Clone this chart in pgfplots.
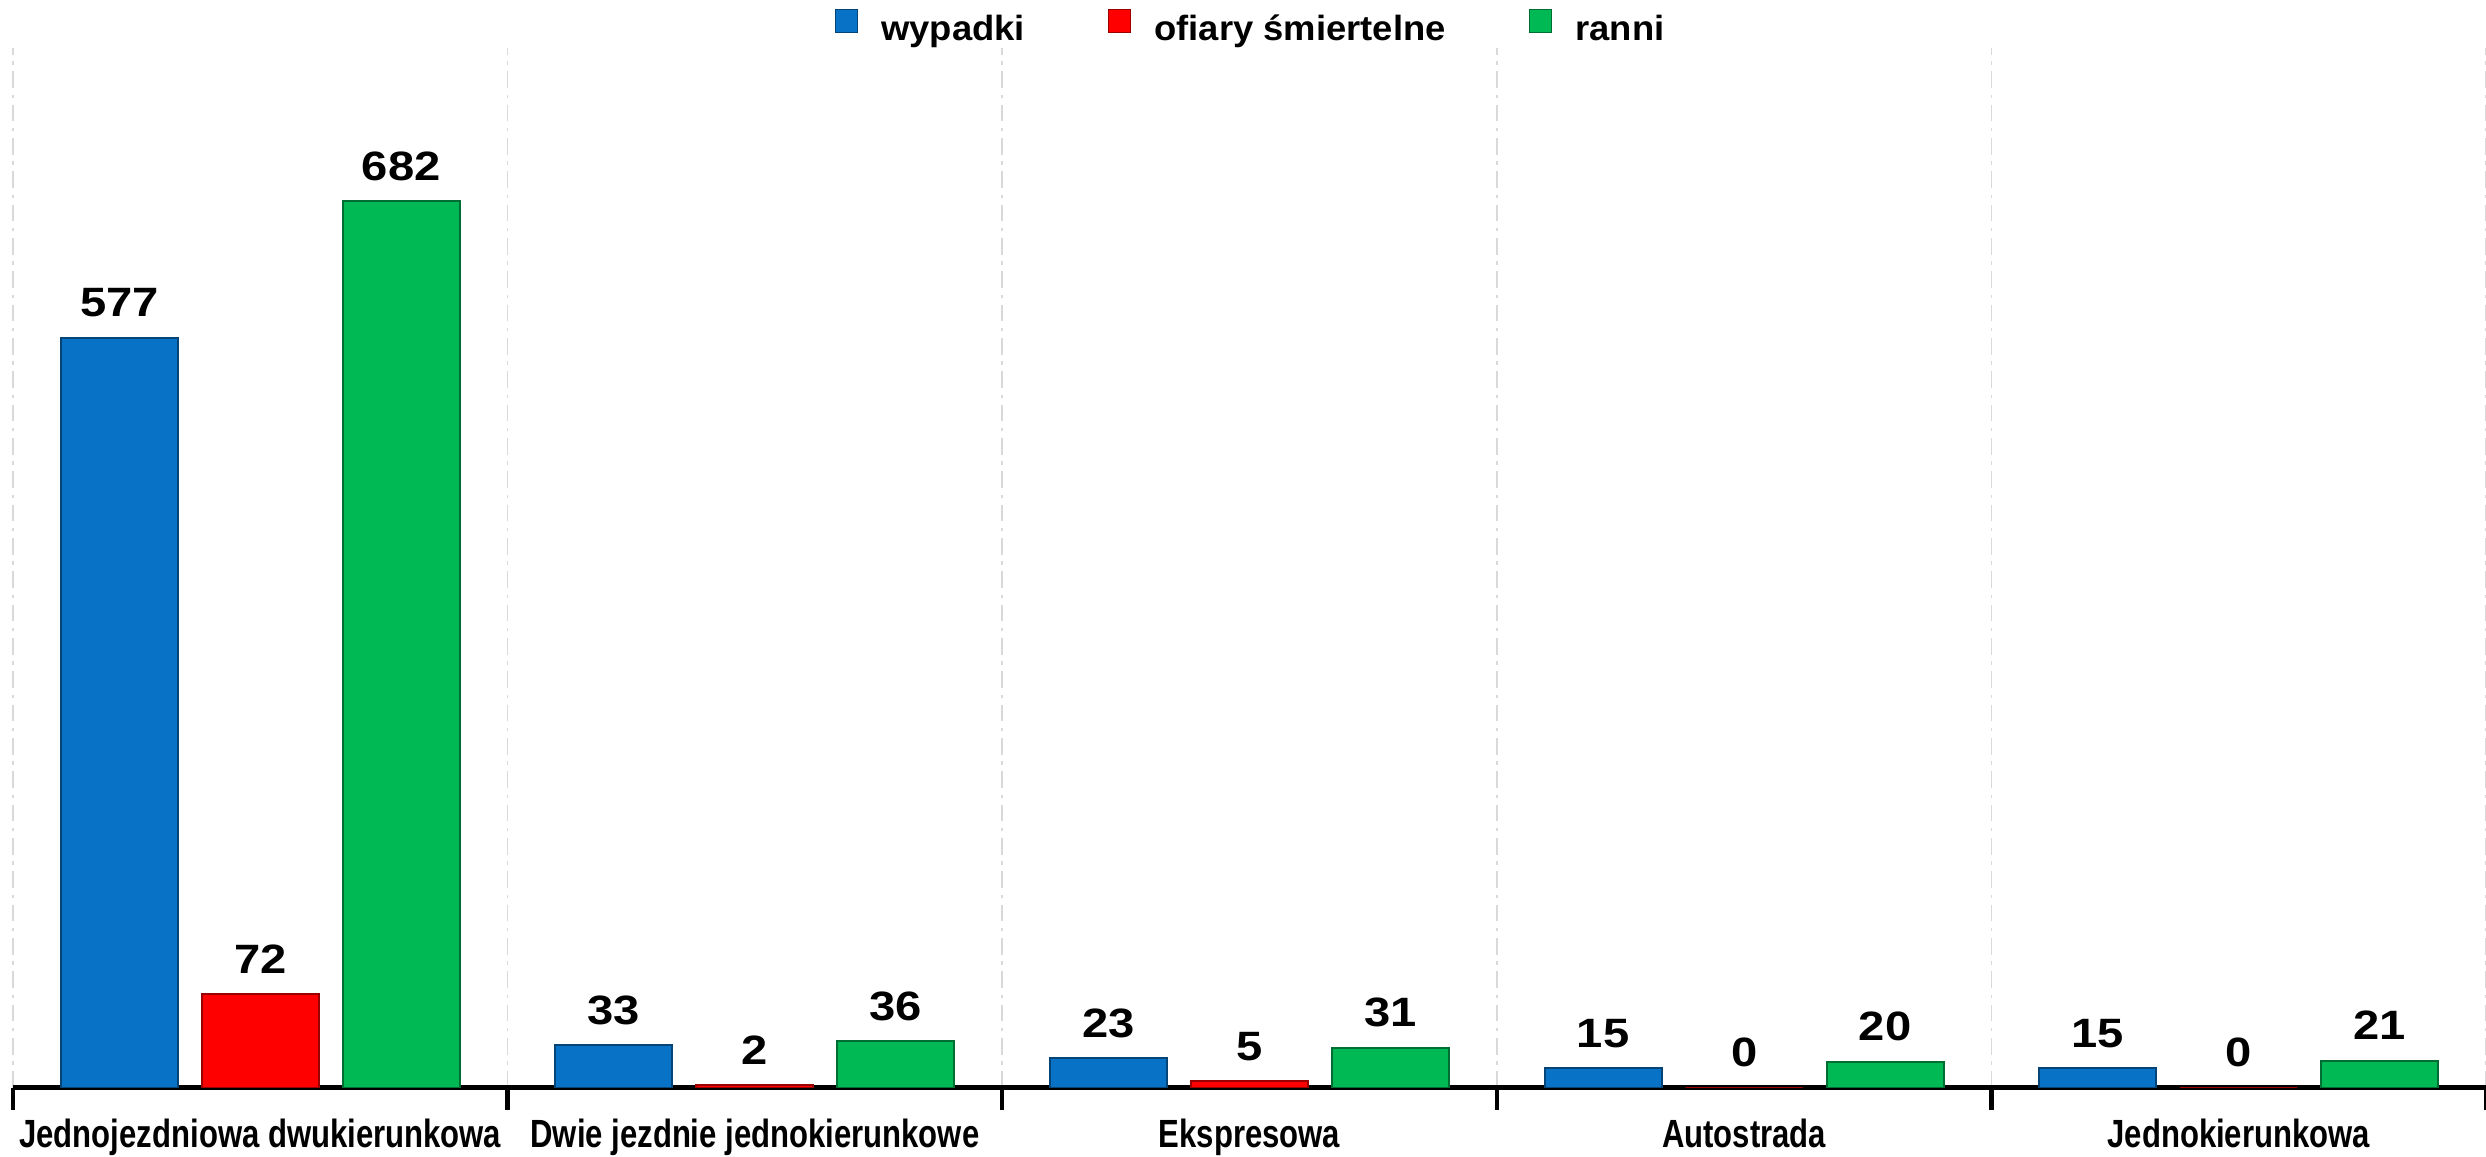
\documentclass[border=0pt]{standalone}
\usepackage{fontspec}
\setmainfont{Liberation Sans}
\newfontfamily\narrowf{Liberation Sans}[FakeStretch=0.79]
\newfontfamily\numf{Liberation Sans}[FakeStretch=1.15]
\newfontfamily\legf{Liberation Sans}[FakeStretch=1.04]
\usepackage{pgfplots}
\pgfplotsset{compat=1.18}
\definecolor{cBlue}{RGB}{8,114,198}
\definecolor{cRed}{RGB}{255,0,0}
\definecolor{cGreen}{RGB}{0,184,84}
\definecolor{cGrid}{RGB}{217,217,217}
\begin{document}
\begin{tikzpicture}
\useasboundingbox (0,0) rectangle (745.8pt,347.1pt);
\begin{axis}[
  at={(3.9pt,20.7pt)}, anchor=south west,
  scale only axis, width=741.9pt, height=312pt,
  xmin=-0.5, xmax=4.5, ymin=0, ymax=800,
  axis x line*=bottom, axis y line=none,
  x axis line style={line width=1.5pt, black},
  xtick={0,1,2,3,4},
  xticklabels={Jednojezdniowa dwukierunkowa, Dwie jezdnie jednokierunkowe, Ekspresowa, Autostrada, Jednokierunkowa},
  major tick length=0pt,
  minor xtick={-0.5,0.5,1.5,2.5,3.5,4.5},
  minor tick length=6.6pt,
  tick align=center,
  minor tick style={line width=1.3pt, black},
  xminorgrids,
  minor grid style={cGrid, line width=0.5pt, dash pattern=on 5pt off 2pt on 1pt off 2pt},
  xticklabel style={font=\narrowf\bfseries\fontsize{11.8}{13}\selectfont, anchor=base, yshift=-18pt},
  ybar, bar width=0.2366,
  nodes near coords,
  /pgf/number format/assume math mode=true,
  every node near coord/.append style={font=\numf\bfseries\fontsize{12.3}{14}\selectfont, anchor=base, yshift=6.3pt, inner sep=0pt, text=black},
  legend columns=3,
  legend style={draw=none, fill=none, at={(0.5,1)}, anchor=center, yshift=5.9pt,
    font=\legf\bfseries\fontsize{10.5}{12}\selectfont,
    nodes={inner sep=0pt, text height=7.5pt, text depth=2.2pt},
    /tikz/every even column/.append style={column sep=24.9pt}},
  legend image code/.code={\draw[#1,/tikz/.cd,line width=0.4pt] (0pt,-0.3pt) rectangle (6.6pt,6.6pt); \path (13.5pt,0pt);},
]
\addplot[bar shift=-0.285, fill=cBlue, draw=cBlue!60!black, line width=0.6pt]
  coordinates {(0,577) (1,33) (2,23) (3,15) (4,15)};
\addplot[bar shift=0, fill=cRed, draw=cRed!60!black, line width=0.6pt]
  coordinates {(0,72) (1,2) (2,5) (3,0) (4,0)};
\addplot[bar shift=0.285, fill=cGreen, draw=cGreen!60!black, line width=0.6pt]
  coordinates {(0,682) (1,36) (2,31) (3,20) (4,21)};
\legend{wypadki, ofiary śmiertelne, ranni}
\end{axis}
\end{tikzpicture}
\end{document}
